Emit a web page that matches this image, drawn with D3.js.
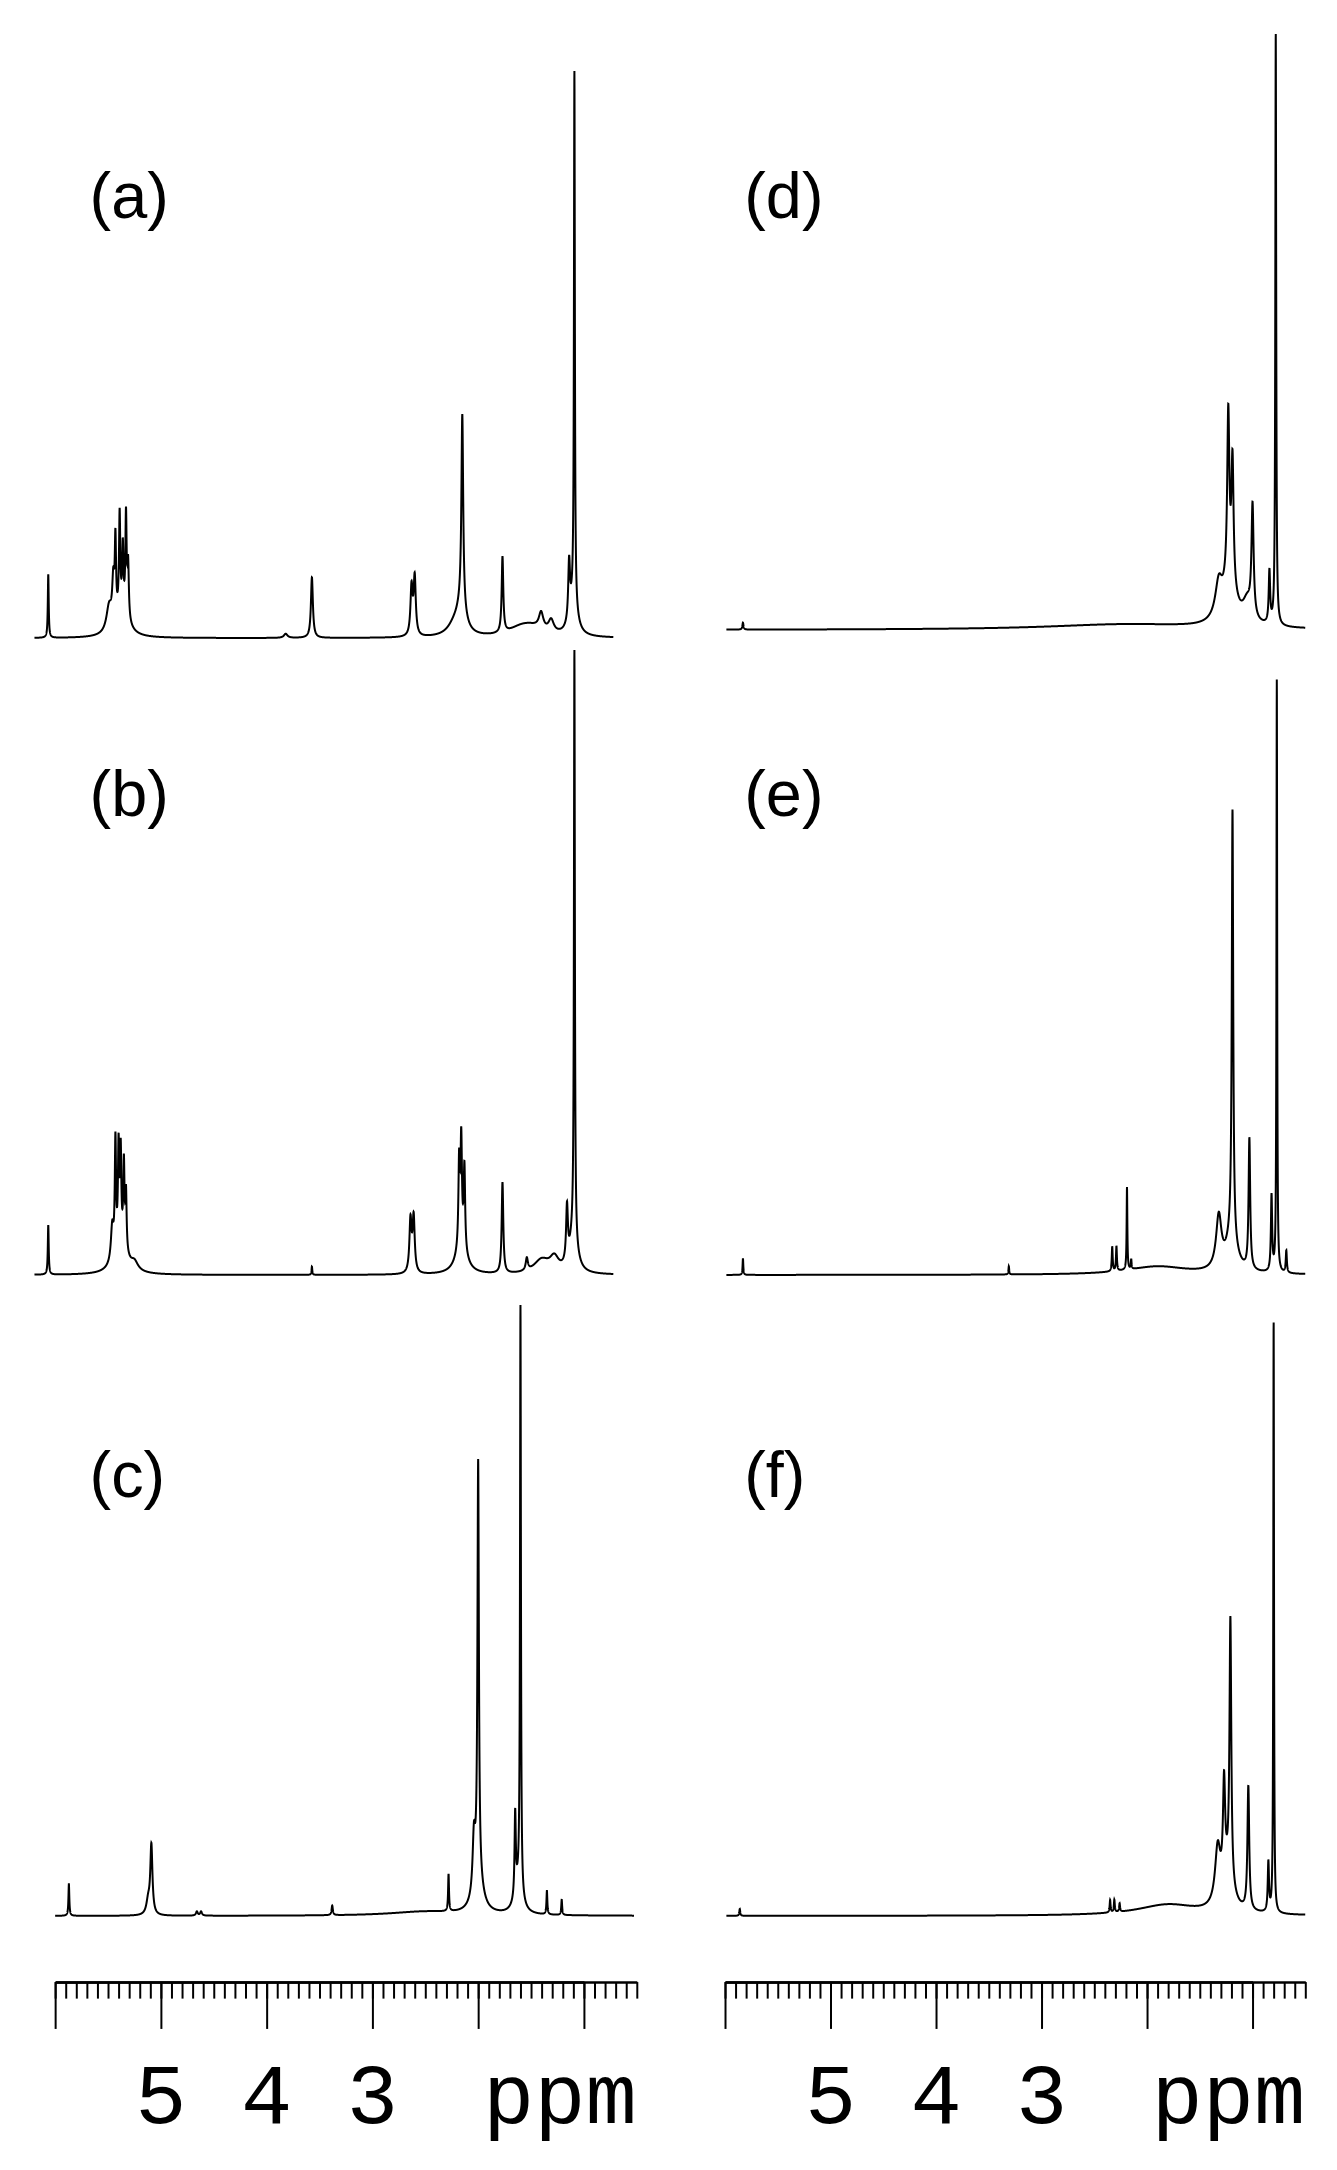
<!DOCTYPE html>
<html><head><meta charset="utf-8">
<script src="https://cdn.jsdelivr.net/npm/d3@7"></script>
<style>body{margin:0;background:#fff}</style></head>
<body><svg id="c" width="1337" height="2170"></svg>
<script>
// scale: reference sketched in 970-px units, multiplied by S
const S = 1337/970;
const panelLabels = ["(a)","(b)","(c)","(d)","(e)","(f)"];
const axisMajor = [6,5,4,3,2,1];
const axisLabels = ["5","4","3"];
const unitLabel = "ppm";
// peaks: [ppm, height, halfwidth]
const peaksA = [[6.065,46,0.005],[5.49,18,0.03],[5.45,30,0.012],[5.43,55,0.007],[5.39,70,0.007],[5.36,45,0.007],[5.33,72,0.007],[5.31,40,0.008],[5.37,18,0.07],
 [3.82,3,0.02],[3.572,44,0.011],[2.63,35,0.012],[2.60,42,0.012],[2.22,8,0.08],[2.15,140,0.01],[2.16,18,0.05],[1.77,55,0.009],[1.6,5,0.15],[1.405,12,0.025],[1.31,9,0.03],[1.5,6,0.15],[1.14,42,0.01],[1.09,385,0.005],[1.1,25,0.04]];
const peaksB = [[6.065,36,0.005],[5.46,25,0.015],[5.43,80,0.007],[5.40,70,0.007],[5.38,65,0.007],[5.35,60,0.007],[5.33,42,0.007],[5.38,20,0.07],[5.25,6,0.04],
 [3.572,6,0.004],[2.64,38,0.012],[2.61,40,0.012],[2.18,62,0.008],[2.16,75,0.008],[2.13,60,0.008],[2.16,20,0.06],[1.77,66,0.009],[1.54,9,0.012],[1.4,10,0.09],[1.28,10,0.05],[1.16,40,0.01],[1.09,425,0.005],[1.1,28,0.04]];
const peaksC = [[5.87,23,0.005],[5.09,50,0.012],[5.12,10,0.02],[4.66,3,0.01],[4.62,3,0.01],[3.38,7,0.007],[2.5,3,0.4],[2.28,27,0.005],[2.04,40,0.015],[2.0,300,0.008],[2.0,25,0.05],[1.65,60,0.007],[1.60,425,0.005],[1.62,20,0.04],[1.35,17,0.005],[1.21,11,0.005]];
const peaksD = [[5.83,5,0.006],[2.2,4,0.9],[1.32,25,0.04],[1.23,120,0.012],[1.19,90,0.012],[1.22,30,0.07],[1.0,80,0.012],[1.05,15,0.05],[0.84,38,0.008],[0.78,430,0.005]];
const peaksE = [[5.83,12,0.004],[3.31,6,0.004],[2.33,18,0.005],[2.29,18,0.005],[2.19,60,0.004],[2.15,7,0.004],[1.9,6,0.35],[1.32,38,0.03],[1.19,310,0.008],[1.2,25,0.06],[1.03,95,0.009],[0.82,55,0.007],[0.77,430,0.004],[0.68,16,0.006]];
const peaksF = [[5.86,5,0.005],[2.35,9,0.005],[2.31,9,0.005],[2.26,6,0.005],[1.8,8,0.35],[1.33,40,0.03],[1.27,70,0.012],[1.21,190,0.01],[1.24,25,0.06],[1.04,90,0.01],[0.85,36,0.007],[0.80,430,0.004]];

const panels = [
 {peaks:peaksA, x0:25, x1:445, base:463, col:0, lab:[65,158]},
 {peaks:peaksB, x0:25, x1:445, base:925, col:0, lab:[65,592]},
 {peaks:peaksC, x0:40, x1:460, base:1390, col:0, lab:[65,1086]},
 {peaks:peaksD, x0:527, x1:947, base:457, col:1, lab:[540,158]},
 {peaks:peaksE, x0:527, x1:947, base:925, col:1, lab:[540,592]},
 {peaks:peaksF, x0:527, x1:947, base:1390, col:1, lab:[540,1086]}];
const cols = [{l:40,r:462},{l:526,r:947}];
const svg = d3.select("#c");
const xs = cols.map(c=>d3.scaleLinear().domain([6,1]).range([c.l*S,(c.l+5*(c.r-c.l)/5.5)*S]));

panels.forEach((p,i)=>{
  const x = xs[p.col];
  const y = d3.scaleLinear().domain([0,1]).range([p.base*S,(p.base-1)*S]);
  const a = x.invert(p.x0*S), b = x.invert(p.x1*S);
  const pts=[];
  for(let v=a; v>=b; v-=0.0008){
    let s=0; p.peaks.forEach(([c,h,w])=>{s+=h*w*w/((v-c)*(v-c)+w*w);});
    pts.push([v,s]);
  }
  svg.append("path").attr("d",d3.line().x(d=>x(d[0])).y(d=>y(d[1]))(pts))
    .attr("fill","none").attr("stroke","#000").attr("stroke-width",2);
  svg.append("text").attr("x",p.lab[0]*S).attr("y",p.lab[1]*S).text(panelLabels[i])
    .attr("font-family","Liberation Sans, Arial").attr("font-size",47*S);
});

cols.forEach((c,ci)=>{
  const x = xs[ci];
  const g = svg.append("g").attr("transform",`translate(0,${1438*S})`);
  const minor = d3.range(0,56).map(k=>6-k*0.1).filter(v=>v>=x.invert(c.r*S)-1e-9);
  g.call(d3.axisBottom(x.copy().domain([6,x.invert(c.r*S)]).range([c.l*S,c.r*S])).tickValues(minor).tickSize(12*S).tickSizeOuter(0).tickFormat(""));
  g.append("g").call(d3.axisBottom(x).tickValues(axisMajor).tickSize(34*S).tickSizeOuter(0).tickFormat(""));
  g.selectAll("path,line").attr("stroke","#000").attr("stroke-width",2);
  g.selectAll(".domain").attr("stroke-width",2.5);
  axisLabels.forEach((t,k)=>{
    svg.append("text").attr("x",x(+t)).attr("y",1540*S).attr("text-anchor","middle").text(t)
      .attr("font-family","Liberation Mono, Courier New, monospace").attr("font-size",62*S);
  });
  svg.append("text").attr("x",c.r*S).attr("y",1540*S).attr("text-anchor","end").text(unitLabel)
    .attr("font-family","Liberation Mono, Courier New, monospace").attr("font-size",62*S);
});
</script></body></html>
